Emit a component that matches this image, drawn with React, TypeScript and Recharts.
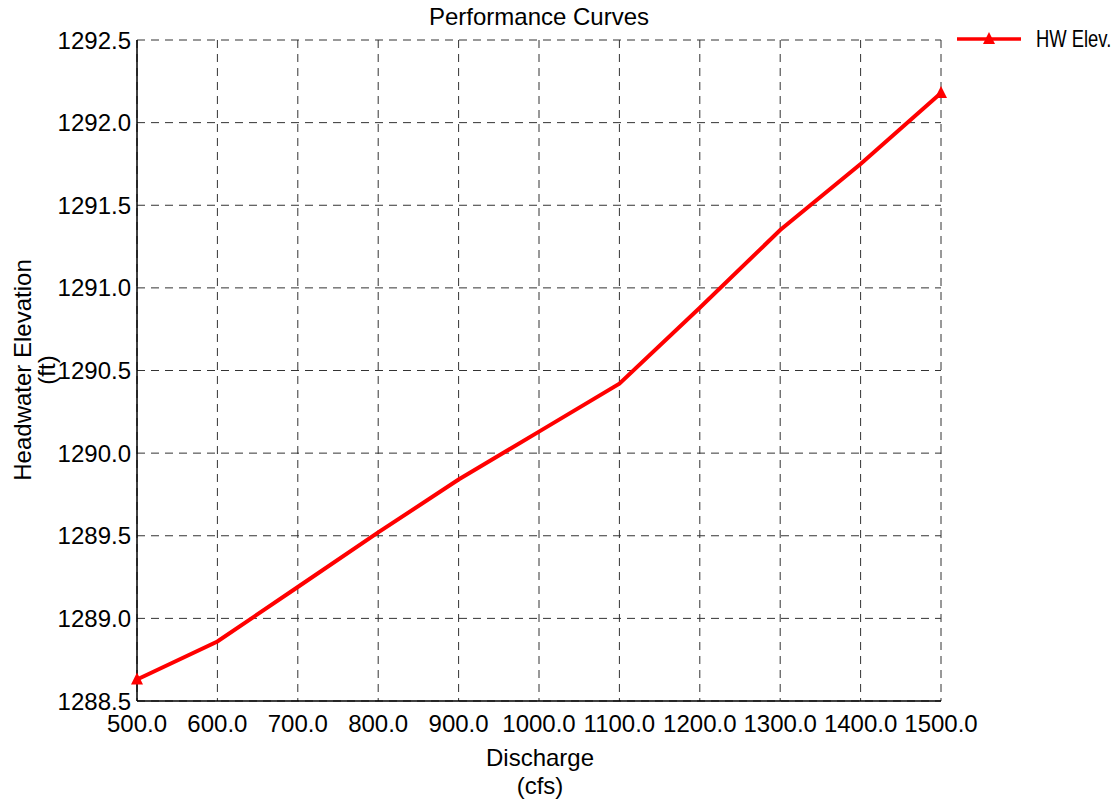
import { CartesianGrid, Line, LineChart, XAxis, YAxis } from "recharts";

const discharge = [500, 600, 700, 800, 900, 1000, 1100, 1200, 1300, 1400, 1500];
const hwElev = [1288.63, 1288.86, 1289.19, 1289.52, 1289.84, 1290.13, 1290.42, 1290.88, 1291.35, 1291.75, 1292.18];
const xTicks = [500, 600, 700, 800, 900, 1000, 1100, 1200, 1300, 1400, 1500];
const yTicks = [1288.5, 1289.0, 1289.5, 1290.0, 1290.5, 1291.0, 1291.5, 1292.0, 1292.5];

const data = discharge.map((q, i) => ({ q, hw: hwElev[i] }));

const font = "'Liberation Sans', Arial, sans-serif";
const red = "#ff0000";

function Triangle({ cx, cy }: { cx?: number; cy?: number }) {
  if (cx == null || cy == null) return null;
  return <path d={`M${cx},${cy - 7} L${cx + 6},${cy + 5} L${cx - 6},${cy + 5} Z`} fill={red} />;
}

function EndDot(props: any) {
  const { index, cx, cy } = props;
  if (index !== 0 && index !== data.length - 1) return <g key={index} />;
  return <Triangle key={index} cx={cx} cy={cy} />;
}

export default function App() {
  return (
    <div style={{ position: "absolute", left: 0, top: 0, background: "#fff" }}>
      <LineChart
        width={1118}
        height={802}
        data={data}
        margin={{ top: 40, right: 177, left: 0, bottom: 0 }}
      >
        <text x={539} y={25} textAnchor="middle" fontSize={24} fontFamily={font} fill="#000">
          Performance Curves
        </text>
        <g>
          <line x1={957} y1={39} x2={1021} y2={39} stroke={red} strokeWidth={3.5} />
          <Triangle cx={989} cy={39} />
          <text
            x={0}
            y={47}
            transform="translate(1036 0) scale(0.8 1)"
            fontSize={23}
            fontFamily={font}
            fill="#000"
          >
            HW Elev.
          </text>
        </g>
        <CartesianGrid stroke="#333" strokeDasharray="8 6" strokeWidth={1} />
        <XAxis
          dataKey="q"
          type="number"
          domain={[500, 1500]}
          ticks={xTicks}
          tickFormatter={(v: number) => v.toFixed(1)}
          axisLine={{ stroke: "#000", strokeWidth: 1.5 }}
          tickLine={false}
          tick={{ fill: "#000", fontSize: 24, fontFamily: font }}
          tickMargin={8}
          height={101}
          interval={0}
          label={() => (
            <g fontFamily={font} fontSize={24} fill="#000" textAnchor="middle">
              <text x={540} y={766}>Discharge</text>
              <text x={540} y={794}>(cfs)</text>
            </g>
          )}
        />
        <YAxis
          type="number"
          domain={[1288.5, 1292.5]}
          ticks={yTicks}
          tickFormatter={(v: number) => v.toFixed(1)}
          axisLine={{ stroke: "#000", strokeWidth: 1.5 }}
          tickLine={false}
          tick={{ fill: "#000", fontSize: 24, fontFamily: font }}
          tickMargin={0}
          width={137}
          interval={0}
          label={() => (
            <g fontFamily={font} fontSize={24} fill="#000" textAnchor="middle">
              <text x={31} y={370} transform="rotate(-90 31 370)">Headwater Elevation</text>
              <text x={55} y={370} transform="rotate(-90 55 370)">(ft)</text>
            </g>
          )}
        />
        <Line
          type="linear"
          dataKey="hw"
          name="HW Elev."
          stroke={red}
          strokeWidth={4}
          dot={EndDot}
          activeDot={false}
          isAnimationActive={false}
        />
      </LineChart>
    </div>
  );
}
